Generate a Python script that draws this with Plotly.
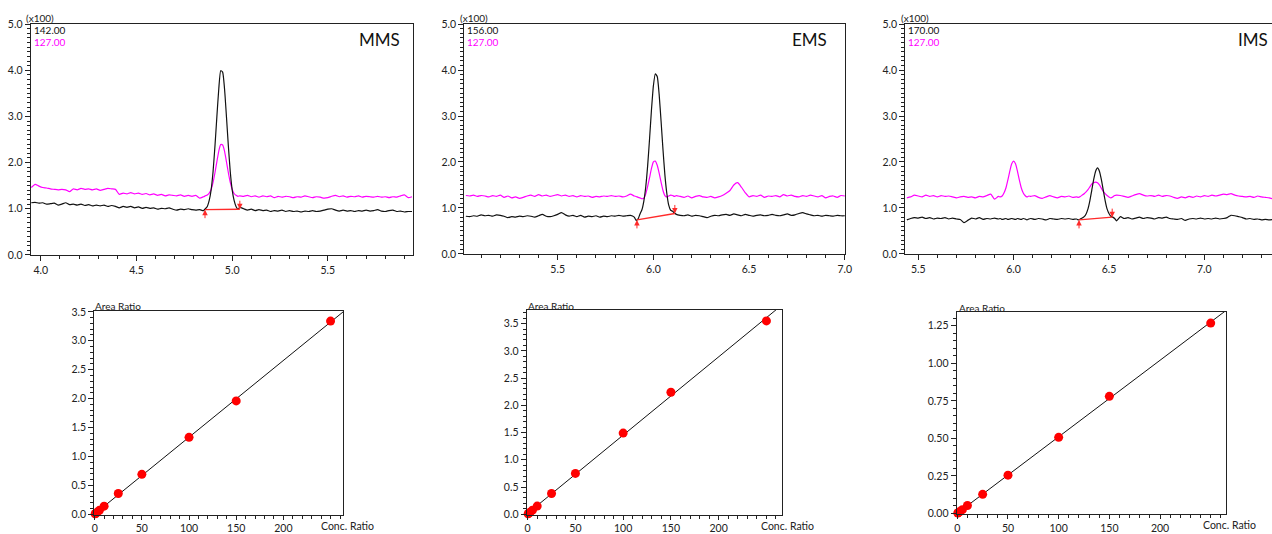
import numpy as np
import plotly.graph_objects as go

# ---------------- DATA ----------------
# MMS chromatogram (m/z 142 black, m/z 127 magenta), intensity x100
mms_t = [3.95,3.97,3.99,4.01,4.03,4.05,4.07,4.09,4.11,4.13,
         4.15,4.17,4.19,4.21,4.23,4.25,4.27,4.29,4.31,4.33,
         4.35,4.37,4.39,4.41,4.43,4.45,4.47,4.49,4.51,4.53,
         4.55,4.57,4.59,4.61,4.63,4.65,4.67,4.69,4.71,4.73,
         4.75,4.77,4.79,4.81,4.83,4.85,
         4.86,4.87,4.88,4.89,4.90,4.91,4.92,4.93,4.94,4.95,
         4.96,4.97,4.98,4.99,5.00,5.01,5.02,5.03,5.04,
         5.06,5.08,5.10,5.12,5.14,5.16,5.18,5.20,5.22,5.24,
         5.26,5.28,5.30,5.32,5.34,5.36,5.38,5.40,5.42,5.44,
         5.46,5.48,5.50,5.52,5.54,5.56,5.58,5.60,5.62,5.64,
         5.66,5.68,5.70,5.72,5.74,5.76,5.78,5.80,5.82,5.84,
         5.86,5.88,5.90,5.92,5.94]
mms_black = [1.13,1.14,1.12,1.13,1.10,1.11,1.12,1.08,1.10,1.13,
             1.09,1.10,1.08,1.10,1.07,1.09,1.06,1.08,1.06,1.08,
             1.05,1.07,1.05,1.02,1.05,1.03,1.05,1.02,1.04,1.01,
             1.03,1.01,1.02,0.99,1.01,1.00,1.02,0.99,0.97,0.99,
             0.98,1.00,0.98,0.97,0.98,0.96,
             1.00,1.05,1.18,1.41,1.80,2.36,3.00,3.60,3.99,3.96,
             3.60,3.00,2.36,1.80,1.41,1.18,1.05,0.99,1.03,
             1.00,0.97,0.99,0.96,0.98,0.96,0.97,0.94,0.96,0.95,
             0.97,0.94,0.96,0.94,0.95,0.93,0.95,0.94,0.96,0.94,
             0.95,0.97,0.99,1.00,0.97,0.95,0.97,0.95,0.96,0.94,
             0.96,0.95,0.97,0.95,0.96,0.98,0.95,0.94,0.96,0.97,
             0.94,0.95,0.93,0.94,0.94]
mms_mag = [1.46,1.53,1.49,1.46,1.45,1.43,1.42,1.41,1.42,1.41,
           1.37,1.43,1.41,1.44,1.42,1.43,1.41,1.43,1.40,1.42,
           1.44,1.43,1.42,1.31,1.34,1.32,1.35,1.32,1.34,1.31,
           1.33,1.30,1.32,1.29,1.31,1.28,1.30,1.29,1.28,1.30,
           1.27,1.29,1.27,1.29,1.23,1.26,
           1.28,1.30,1.34,1.42,1.57,1.78,2.02,2.25,2.39,2.38,
           2.25,2.02,1.78,1.57,1.42,1.33,1.29,1.27,1.28,
           1.27,1.29,1.26,1.28,1.25,1.28,1.26,1.28,1.24,1.27,
           1.25,1.27,1.26,1.24,1.26,1.25,1.28,1.26,1.24,1.26,
           1.25,1.23,1.24,1.27,1.29,1.26,1.28,1.25,1.27,1.26,
           1.28,1.25,1.27,1.26,1.25,1.27,1.25,1.26,1.24,1.26,
           1.25,1.28,1.30,1.24,1.26]
mms_int_t = [4.858, 5.040]
mms_int_y = [0.98, 0.99]

# EMS chromatogram (m/z 156 black, m/z 127 magenta)
ems_t = [5.02,5.04,5.06,5.08,5.10,5.12,5.14,5.16,5.18,5.20,
         5.22,5.24,5.26,5.28,5.30,5.32,5.34,5.36,5.38,5.40,
         5.42,5.44,5.46,5.48,5.50,5.52,5.54,5.56,5.58,5.60,
         5.62,5.64,5.66,5.68,5.70,5.72,5.74,5.76,5.78,5.80,
         5.82,5.84,5.86,5.88,5.90,
         5.91,5.92,5.93,5.94,5.95,5.96,5.97,5.98,5.99,6.00,
         6.01,6.02,6.03,6.04,6.05,6.06,6.07,6.08,6.09,6.10,
         6.11,6.12,
         6.14,6.16,6.18,6.20,6.22,6.24,6.26,6.28,6.30,6.32,
         6.34,6.36,6.38,6.40,6.42,6.44,6.46,6.48,6.50,6.52,
         6.54,6.56,6.58,6.60,6.62,6.64,6.66,6.68,6.70,6.72,
         6.74,6.76,6.78,6.80,6.82,6.84,6.86,6.88,6.90,6.92,
         6.94,6.96,6.98,7.00]
ems_black = [0.82,0.81,0.83,0.82,0.85,0.83,0.84,0.82,0.85,0.84,
             0.82,0.79,0.81,0.80,0.82,0.81,0.83,0.82,0.80,0.83,
             0.86,0.82,0.81,0.83,0.86,0.90,0.85,0.82,0.84,0.81,
             0.84,0.80,0.82,0.81,0.83,0.80,0.82,0.81,0.83,0.82,
             0.84,0.82,0.83,0.84,0.80,
             0.73,0.76,0.87,0.96,1.15,1.46,1.92,2.51,3.14,3.66,
             3.92,3.86,3.47,2.89,2.27,1.72,1.32,1.06,0.95,0.93,
             0.89,0.86,
             0.84,0.83,0.85,0.82,0.84,0.83,0.81,0.79,0.82,0.84,
             0.83,0.85,0.86,0.84,0.87,0.85,0.83,0.86,0.84,0.82,
             0.84,0.85,0.83,0.84,0.86,0.84,0.83,0.85,0.87,0.84,
             0.85,0.88,0.90,0.87,0.85,0.83,0.84,0.82,0.84,0.83,
             0.82,0.84,0.83,0.83]
ems_mag = [1.27,1.26,1.28,1.25,1.27,1.26,1.24,1.27,1.25,1.28,
           1.23,1.26,1.22,1.24,1.21,1.23,1.26,1.28,1.25,1.29,
           1.26,1.28,1.25,1.27,1.29,1.26,1.28,1.25,1.27,1.24,
           1.27,1.25,1.26,1.23,1.25,1.24,1.26,1.25,1.27,1.25,
           1.26,1.24,1.26,1.30,1.26,
           1.25,1.23,1.22,1.20,1.21,1.31,1.47,1.66,1.86,2.00,
           2.02,1.93,1.76,1.56,1.38,1.27,1.24,1.26,1.28,1.27,
           1.25,1.27,
           1.25,1.23,1.26,1.22,1.25,1.27,1.24,1.23,1.25,1.22,
           1.24,1.27,1.32,1.38,1.50,1.55,1.45,1.33,1.24,1.27,
           1.25,1.28,1.23,1.26,1.25,1.27,1.24,1.29,1.26,1.28,
           1.25,1.24,1.27,1.25,1.28,1.26,1.24,1.27,1.22,1.25,
           1.26,1.23,1.27,1.26]
ems_int_t = [5.914, 6.112]
ems_int_y = [0.74, 0.88]

# IMS chromatogram (m/z 170 black, m/z 127 magenta)
ims_t = [5.44,5.46,5.48,5.50,5.52,5.54,5.56,5.58,5.60,5.62,
         5.64,5.66,5.68,5.70,5.72,5.74,5.76,5.78,5.80,5.82,
         5.84,5.86,5.88,5.90,5.92,
         5.93,5.94,5.95,5.96,5.97,5.98,5.99,6.00,6.01,6.02,
         6.03,6.04,6.05,6.06,6.07,6.08,6.09,
         6.11,6.13,6.15,6.17,6.19,6.21,6.23,6.25,6.27,6.29,
         6.31,6.33,
         6.34,6.35,6.36,6.37,6.38,6.39,6.40,6.41,6.42,6.43,
         6.44,6.45,6.46,6.47,6.48,6.49,6.50,6.51,6.52,6.53,
         6.54,
         6.56,6.58,6.60,6.62,6.64,6.66,6.68,6.70,6.72,6.74,
         6.76,6.78,6.80,6.82,6.84,6.86,6.88,6.90,6.92,6.94,
         6.96,6.98,7.00,7.02,7.04,7.06,7.08,7.10,7.12,7.14,
         7.16,7.18,7.20,7.22,7.24,7.26,7.28,7.30,7.32,7.34,
         7.36]
ims_black = [0.74,0.77,0.79,0.78,0.80,0.77,0.79,0.76,0.78,0.77,
             0.79,0.76,0.78,0.76,0.75,0.68,0.73,0.78,0.76,0.79,
             0.75,0.77,0.76,0.78,0.76,
             0.77,0.75,0.76,0.77,0.75,0.76,0.77,0.76,0.75,0.77,
             0.76,0.75,0.77,0.76,0.74,0.76,0.77,
             0.75,0.77,0.76,0.74,0.77,0.76,0.75,0.77,0.76,0.77,
             0.75,0.76,
             0.74,0.76,0.78,0.81,0.87,0.98,1.16,1.39,1.62,1.80,
             1.87,1.80,1.62,1.39,1.16,0.98,0.88,0.82,0.80,0.77,
             0.72,
             0.81,0.77,0.79,0.76,0.78,0.80,0.77,0.79,0.78,0.76,
             0.79,0.78,0.80,0.77,0.76,0.75,0.77,0.73,0.76,0.77,
             0.76,0.78,0.76,0.77,0.76,0.78,0.76,0.77,0.79,0.84,
             0.83,0.81,0.79,0.76,0.77,0.75,0.76,0.74,0.75,0.74,
             0.75]
ims_mag = [1.22,1.24,1.28,1.26,1.24,1.28,1.25,1.27,1.24,1.27,
           1.25,1.26,1.24,1.22,1.24,1.25,1.23,1.24,1.22,1.25,
           1.24,1.27,1.30,1.19,1.25,
           1.24,1.26,1.33,1.44,1.61,1.80,1.96,2.02,1.96,1.80,
           1.61,1.44,1.33,1.27,1.24,1.26,1.25,
           1.27,1.23,1.21,1.24,1.27,1.24,1.22,1.25,1.24,1.26,
           1.23,1.24,
           1.23,1.25,1.28,1.31,1.35,1.40,1.46,1.52,1.55,1.56,
           1.55,1.50,1.43,1.36,1.31,1.27,1.24,1.22,1.24,1.27,
           1.28,
           1.27,1.25,1.23,1.26,1.29,1.31,1.28,1.26,1.27,1.25,
           1.28,1.25,1.27,1.26,1.23,1.21,1.24,1.22,1.25,1.23,
           1.26,1.24,1.27,1.25,1.28,1.26,1.28,1.30,1.29,1.31,
           1.28,1.26,1.25,1.24,1.25,1.23,1.26,1.24,1.23,1.22,
           1.20]
ims_int_t = [6.343, 6.517]
ims_int_y = [0.74, 0.80]

# Calibration curves
conc = [0.5, 1, 2.5, 5, 10, 25, 50, 100, 150, 250]
mms_area = [0.007, 0.013, 0.033, 0.068, 0.14, 0.36, 0.69, 1.33, 1.96, 3.34]
ems_area = [0.007, 0.015, 0.037, 0.075, 0.15, 0.38, 0.75, 1.49, 2.24, 3.55]
ims_area = [0.003, 0.005, 0.013, 0.025, 0.053, 0.127, 0.255, 0.507, 0.78, 1.268]

names = ["MMS", "EMS", "IMS"]
mz_target = ["142.00", "156.00", "170.00"]
mz_ref = "127.00"
xtitle = "Conc. Ratio"
ytitle = "Area Ratio"
scale_label = "(x100)"

# ---------------- LAYOUT HELPERS ----------------
W, H = 1272, 534
FONT = "Lato"
AX = "#222222"
TXT = "#222222"
BLACK = "#111111"
MAG = "#ff00ff"
RED = "#ff2a2a"


def fx(px):
    return px / W


def fy(py):
    return 1 - py / H


fig = go.Figure()

chrom = [
    dict(t=mms_t, b=mms_black, m=mms_mag, it=mms_int_t, iy=mms_int_y,
         dom=(30.7, 413.0, 24, 255), rng=(3.947, 5.945), mirror_y=True,
         lbl=(24, 31.5), name_x=402),
    dict(t=ems_t, b=ems_black, m=ems_mag, it=ems_int_t, iy=ems_int_y,
         dom=(464.3, 845.0, 24, 254), rng=(5.012, 7.001), mirror_y=True,
         lbl=(458, 465), name_x=829),
    dict(t=ims_t, b=ims_black, m=ims_mag, it=ims_int_t, iy=ims_int_y,
         dom=(905.3, 1272.0, 24, 254), rng=(5.432, 7.355), mirror_y=False,
         lbl=(899, 906), name_x=1270),
]

calib = [
    dict(a=mms_area, dom=(94.3, 343.3, 310.7, 514.5), xr=(-0.4, 263.5), yr=(-0.004, 3.52),
         dt=0.5, mdt=0.1, fmt=".1f", at=(92.7, 305.5), ct=(318.7, 525.5)),
    dict(a=ems_area, dom=(526.7, 781.7, 310.0, 514.5), xr=(-1.0, 266.0), yr=(-0.005, 3.75),
         dt=0.5, mdt=0.1, fmt=".1f", at=(525.7, 305.5), ct=(758.7, 525.5)),
    dict(a=ims_area, dom=(956.7, 1225.7, 312.0, 514.0), xr=(-0.6, 264.8), yr=(-0.004, 1.342),
         dt=0.25, mdt=0.05, fmt=".2f", at=(956.7, 308.0), ct=(1201, 525.0)),
]

layout = dict(width=W, height=H, margin=dict(l=0, r=0, t=0, b=0, autoexpand=False),
              paper_bgcolor="white", plot_bgcolor="white", showlegend=False,
              font=dict(family=FONT, size=10.5, color=TXT))
annotations = []


def axis_common():
    return dict(showgrid=False, zeroline=False, showline=True, linecolor=AX,
                linewidth=1.2, ticks="outside", tickcolor=AX, tickwidth=1,
                ticklen=5, automargin=False,
                tickfont=dict(family=FONT, size=10.5, color=TXT))


idx = 1
for i, c in enumerate(chrom):
    xa = "xaxis" if idx == 1 else f"xaxis{idx}"
    ya = "yaxis" if idx == 1 else f"yaxis{idx}"
    xr = "x" if idx == 1 else f"x{idx}"
    yr = "y" if idx == 1 else f"y{idx}"
    x0, x1, y0, y1 = c["dom"]
    xd = axis_common()
    xd.update(domain=[fx(x0), min(1.0, fx(x1))], range=list(c["rng"]), anchor=yr,
              tick0=0, dtick=0.5, tickformat=".1f", mirror=True,
              minor=dict(ticks="outside", ticklen=3, tick0=0, dtick=0.1,
                         tickcolor=AX, showgrid=False))
    yd = axis_common()
    yd.update(domain=[fy(y1), fy(y0)], range=[-0.002, 5.002], anchor=xr,
              tick0=0, dtick=1, tickformat=".1f", mirror=c["mirror_y"],
              minor=dict(ticks="outside", ticklen=3, tick0=0, dtick=0.1,
                         tickcolor=AX, showgrid=False))
    layout[xa] = xd
    layout[ya] = yd

    fig.add_trace(go.Scatter(x=c["t"], y=c["m"], mode="lines", xaxis=xr, yaxis=yr,
                             line=dict(color=MAG, width=1.2, shape="spline", smoothing=0.5)))
    fig.add_trace(go.Scatter(x=c["t"], y=c["b"], mode="lines", xaxis=xr, yaxis=yr,
                             line=dict(color=BLACK, width=1.2, shape="spline", smoothing=0.5)))
    fig.add_trace(go.Scatter(x=c["it"], y=c["iy"], mode="lines", xaxis=xr, yaxis=yr,
                             line=dict(color=RED, width=1.4)))
    # integration arrows: start (pointing up), end (pointing down)
    annotations.append(dict(x=c["it"][0], y=c["iy"][0], xref=xr, yref=yr, text="",
                            showarrow=True, ax=0, ay=10, arrowhead=2, arrowsize=1.1,
                            arrowwidth=1, arrowcolor=RED))
    annotations.append(dict(x=c["it"][1], y=c["iy"][1], xref=xr, yref=yr, text="",
                            showarrow=True, ax=0, ay=-10, arrowhead=2, arrowsize=1.1,
                            arrowwidth=1, arrowcolor=RED))
    # texts
    annotations.append(dict(x=fx(c["lbl"][0]), y=fy(17.5), xref="paper", yref="paper",
                            text=scale_label, showarrow=False, xanchor="left", yanchor="middle",
                            font=dict(family=FONT, size=10, color=TXT)))
    annotations.append(dict(x=fx(c["lbl"][1]), y=fy(30.5), xref="paper", yref="paper",
                            text=mz_target[i], showarrow=False, xanchor="left", yanchor="middle",
                            font=dict(family=FONT, size=10, color=BLACK)))
    annotations.append(dict(x=fx(c["lbl"][1]), y=fy(41.5), xref="paper", yref="paper",
                            text=mz_ref, showarrow=False, xanchor="left", yanchor="middle",
                            font=dict(family=FONT, size=10, color=MAG)))
    annotations.append(dict(x=fx(c["name_x"]), y=fy(39.5), xref="paper", yref="paper",
                            text=names[i], showarrow=False, xanchor="right",
                            yanchor="middle", font=dict(family=FONT, size=17, color=BLACK)))
    idx += 1

for i, c in enumerate(calib):
    xa = f"xaxis{idx}"
    ya = f"yaxis{idx}"
    xr = f"x{idx}"
    yr = f"y{idx}"
    x0, x1, y0, y1 = c["dom"]
    xd = axis_common()
    xd.update(domain=[fx(x0), fx(x1)], range=list(c["xr"]), anchor=yr,
              tickmode="array", tickvals=[0, 50, 100, 150, 200], mirror=True,
              ticklen=4,
              minor=dict(ticks="outside", ticklen=3, tickmode="linear", tick0=0, dtick=10,
                         tickcolor=AX, showgrid=False))
    yd = axis_common()
    yd.update(domain=[fy(y1), fy(y0)], range=list(c["yr"]), anchor=xr,
              tick0=0, dtick=c["dt"], tickformat=c["fmt"], mirror=True,
              minor=dict(ticks="outside", ticklen=3, tick0=0, dtick=c["mdt"],
                         tickcolor=AX, showgrid=False))
    layout[xa] = xd
    layout[ya] = yd

    slope, icpt = np.polyfit(conc, c["a"], 1)
    lx = [0.0, c["xr"][1]]
    ly = [icpt + slope * v for v in lx]
    fig.add_trace(go.Scatter(x=lx, y=ly, mode="lines", xaxis=xr, yaxis=yr,
                             line=dict(color=BLACK, width=1)))
    fig.add_trace(go.Scatter(x=conc, y=c["a"], mode="markers", xaxis=xr, yaxis=yr,
                             cliponaxis=False,
                             marker=dict(color="#ff0000", size=9, line=dict(width=0))))
    annotations.append(dict(x=fx(c["at"][0]), y=fy(c["at"][1]), xref="paper", yref="paper",
                            text=ytitle, showarrow=False, xanchor="left", yanchor="middle",
                            font=dict(family=FONT, size=10, color=TXT)))
    annotations.append(dict(x=fx(c["ct"][0]), y=fy(c["ct"][1]), xref="paper", yref="paper",
                            text=xtitle, showarrow=False, xanchor="left", yanchor="middle",
                            font=dict(family=FONT, size=10.5, color=TXT)))
    idx += 1

layout["annotations"] = annotations
fig.update_layout(**layout)

fig.write_html("out.html", config={"displayModeBar": False},
               post_script="document.body.style.margin='0';")
